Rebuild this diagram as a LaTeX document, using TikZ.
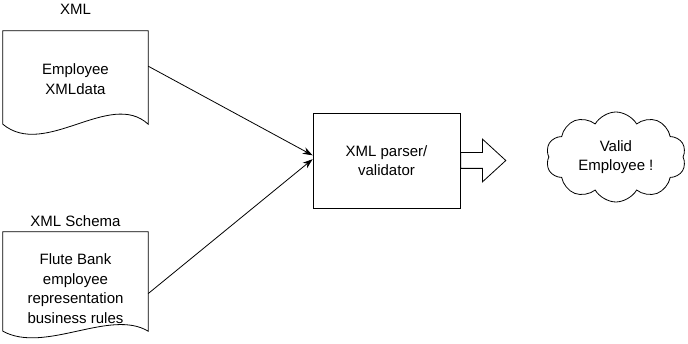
\documentclass[tikz,border=0pt]{standalone}
\usepackage{fontspec}
\setmainfont{Liberation Sans}
\usepackage{tikz}
\usetikzlibrary{arrows.meta,positioning,calc,shapes.symbols,shapes.arrows}

% page with a wavy lower edge, drawn round a named node (wave depth, lift)
\newcommand{\pageoutline}[3]{%
  \draw[line] ($(#1.north west)+(0,-#3)$) -- ($(#1.north east)+(0,-#3)$) -- ($(#1.south east)+(0,-#3)$)
    .. controls ($(#1.south east)+(-38,-#2-#3)$) and ($(#1.south west)+(42,#2-#3)$) .. ($(#1.south west)+(0,-#3)$) -- cycle;}

\begin{document}
\begin{tikzpicture}[
  x=1pt, y=-1pt,
  font=\fontsize{15}{19.5}\selectfont,
  line/.style={line width=0.8pt},
  docpage/.style={
    minimum width=145pt,
    align=center,
    inner sep=0pt
  },
  process/.style={
    draw,
    line width=0.8pt,
    minimum width=147pt,
    minimum height=95pt,
    align=center
  },
  outcome/.style={
    cloud,
    draw,
    cloud puffs=10,
    cloud puff arc=120,
    aspect=1.6,
    minimum width=140pt,
    minimum height=90pt,
    inner sep=0pt,
    align=center,
    line width=0.8pt
  },
  blockarrow/.style={
    single arrow,
    draw,
    line width=0.8pt,
    minimum height=45pt,
    inner xsep=0pt,
    inner ysep=7.5pt,
    single arrow head extend=13.5pt,
    single arrow tip angle=85
  },
  arrow/.style={-{Stealth[length=10pt,width=7pt]},line width=0.8pt},
  caption/.style={inner sep=0pt}
]
\useasboundingbox (0,0) rectangle (688,344);

\node[docpage,minimum height=93pt] (xmldoc) at (75.5,79) {Employee\\XMLdata};
\node[docpage,minimum height=99pt] (schemadoc) at (75.5,288.5) {Flute Bank\\employee\\representation\\business rules};
\pageoutline{xmldoc}{35}{1.5}
\pageoutline{schemadoc}{23}{7}

\node[caption,above=17.5pt of xmldoc] (xmltitle) {XML};
\node[caption,above=12pt of schemadoc] (schematitle) {XML Schema};

\node[process] (parser) at (386.5,160.5) {XML parser/\\validator};
\node[blockarrow,anchor=tail] (flow) at (parser.east) {};
\node[outcome,right=42pt of flow,yshift=3.5pt] (valid) {Valid\\Employee !};

\draw[arrow] (xmldoc.10) -- (parser.176);
\draw[arrow] (schemadoc.-4) -- (parser.179);
\end{tikzpicture}
\end{document}
